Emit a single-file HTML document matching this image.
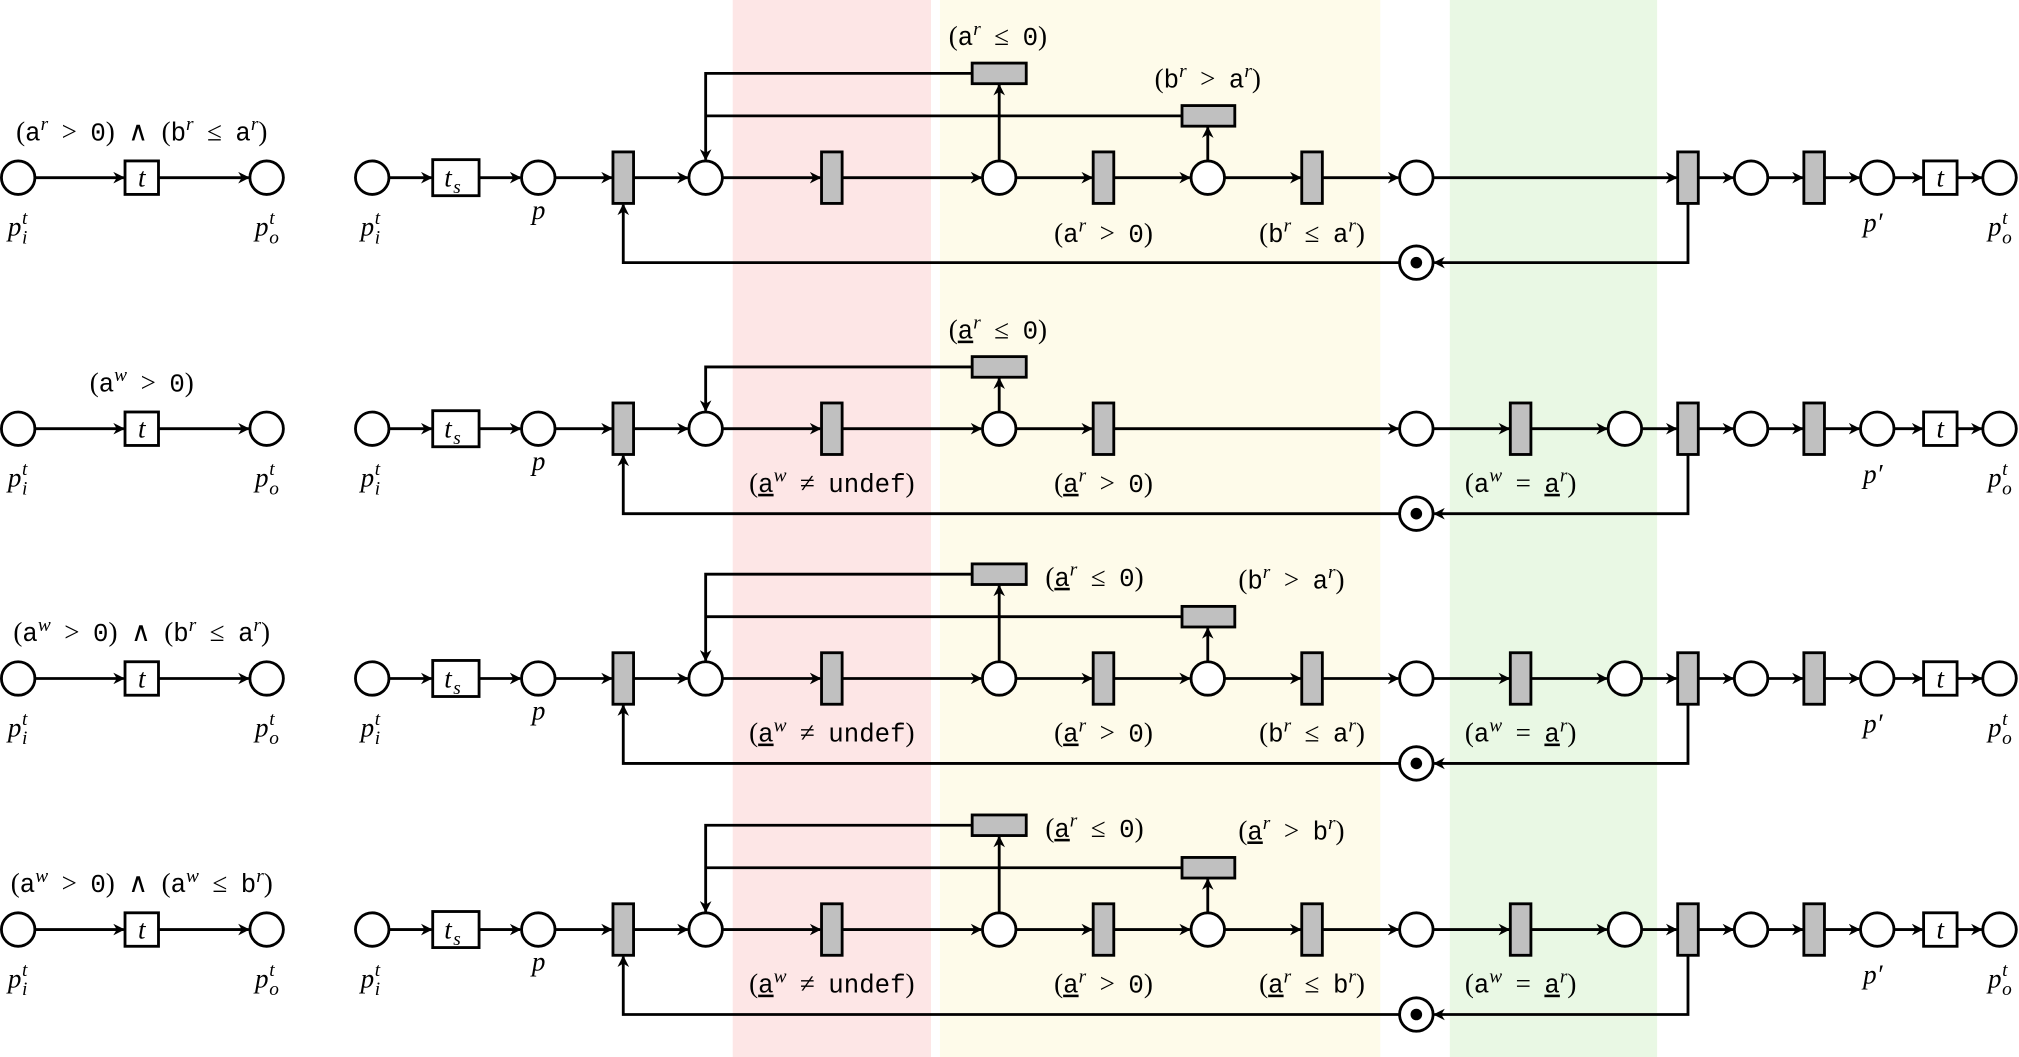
<!DOCTYPE html>
<html><head><meta charset="utf-8"><style>
html,body{margin:0;padding:0;background:#fff;}
svg{display:block}
text{font-family:"Liberation Serif","DejaVu Serif",serif;font-size:21px;fill:#000}
.m{font-family:"Liberation Mono",monospace;font-size:20px}
.s{font-style:italic;font-size:15px}
.i{font-style:italic}
.u{text-decoration:underline}
</style></head><body>
<svg id="S" width="2019" height="1057" viewBox="0 0 1568 821" xmlns="http://www.w3.org/2000/svg">
<defs><marker id="ar" viewBox="0 0 10 10" refX="9" refY="5" markerWidth="9" markerHeight="9" markerUnits="userSpaceOnUse" orient="auto"><path d="M0,0 L10,5 L0,10 L3,5 z" fill="#000"/></marker></defs>
<rect x="569" y="0" width="154" height="821" fill="#fde6e6"/>
<rect x="730" y="0" width="342" height="821" fill="#fefbea"/>
<rect x="1126" y="0" width="161" height="821" fill="#e9f8e4"/>
<g id="G"></g>
<g id="T">
<text x="110" y="109" text-anchor="middle">(<tspan class="m">a</tspan><tspan class="s" dy="-8">r</tspan><tspan dy="8">&#8194;&gt;&#8194;</tspan><tspan class="m">0</tspan>)&#8194;∧&#8194;(<tspan class="m">b</tspan><tspan class="s" dy="-8">r</tspan><tspan dy="8">&#8194;≤&#8194;</tspan><tspan class="m">a</tspan><tspan class="s" dy="-8">r</tspan><tspan dy="8">)</tspan></text>
<text x="110" y="304" text-anchor="middle">(<tspan class="m">a</tspan><tspan class="s" dy="-8">w</tspan><tspan dy="8">&#8194;&gt;&#8194;</tspan><tspan class="m">0</tspan>)</text>
<text x="110" y="498" text-anchor="middle">(<tspan class="m">a</tspan><tspan class="s" dy="-8">w</tspan><tspan dy="8">&#8194;&gt;&#8194;</tspan><tspan class="m">0</tspan>)&#8194;∧&#8194;(<tspan class="m">b</tspan><tspan class="s" dy="-8">r</tspan><tspan dy="8">&#8194;≤&#8194;</tspan><tspan class="m">a</tspan><tspan class="s" dy="-8">r</tspan><tspan dy="8">)</tspan></text>
<text x="110" y="693" text-anchor="middle">(<tspan class="m">a</tspan><tspan class="s" dy="-8">w</tspan><tspan dy="8">&#8194;&gt;&#8194;</tspan><tspan class="m">0</tspan>)&#8194;∧&#8194;(<tspan class="m">a</tspan><tspan class="s" dy="-8">w</tspan><tspan dy="8">&#8194;≤&#8194;</tspan><tspan class="m">b</tspan><tspan class="s" dy="-8">r</tspan><tspan dy="8">)</tspan></text>

<text x="775" y="35" text-anchor="middle">(<tspan class="m">a</tspan><tspan class="s" dy="-8">r</tspan><tspan dy="8">&#8194;≤&#8194;</tspan><tspan class="m">0</tspan>)</text>
<text x="938" y="68" text-anchor="middle">(<tspan class="m">b</tspan><tspan class="s" dy="-8">r</tspan><tspan dy="8">&#8194;&gt;&#8194;</tspan><tspan class="m">a</tspan><tspan class="s" dy="-8">r</tspan><tspan dy="8">)</tspan></text>
<text x="857" y="188" text-anchor="middle">(<tspan class="m">a</tspan><tspan class="s" dy="-8">r</tspan><tspan dy="8">&#8194;&gt;&#8194;</tspan><tspan class="m">0</tspan>)</text>
<text x="1019" y="188" text-anchor="middle">(<tspan class="m">b</tspan><tspan class="s" dy="-8">r</tspan><tspan dy="8">&#8194;≤&#8194;</tspan><tspan class="m">a</tspan><tspan class="s" dy="-8">r</tspan><tspan dy="8">)</tspan></text>

<text x="775" y="263" text-anchor="middle">(<tspan class="m u">a</tspan><tspan class="s" dy="-8">r</tspan><tspan dy="8">&#8194;≤&#8194;</tspan><tspan class="m">0</tspan>)</text>
<text x="646" y="382" text-anchor="middle">(<tspan class="m u">a</tspan><tspan class="s" dy="-8">w</tspan><tspan dy="8">&#8194;≠&#8194;</tspan><tspan class="m">undef</tspan>)</text>
<text x="857" y="382" text-anchor="middle">(<tspan class="m u">a</tspan><tspan class="s" dy="-8">r</tspan><tspan dy="8">&#8194;&gt;&#8194;</tspan><tspan class="m">0</tspan>)</text>
<text x="1181" y="382" text-anchor="middle">(<tspan class="m">a</tspan><tspan class="s" dy="-8">w</tspan><tspan dy="8">&#8194;=&#8194;</tspan><tspan class="m u">a</tspan><tspan class="s" dy="-8">r</tspan><tspan dy="8">)</tspan></text>

<text x="850" y="455" text-anchor="middle">(<tspan class="m u">a</tspan><tspan class="s" dy="-8">r</tspan><tspan dy="8">&#8194;≤&#8194;</tspan><tspan class="m">0</tspan>)</text>
<text x="1003" y="457" text-anchor="middle">(<tspan class="m">b</tspan><tspan class="s" dy="-8">r</tspan><tspan dy="8">&#8194;&gt;&#8194;</tspan><tspan class="m">a</tspan><tspan class="s" dy="-8">r</tspan><tspan dy="8">)</tspan></text>
<text x="646" y="576" text-anchor="middle">(<tspan class="m u">a</tspan><tspan class="s" dy="-8">w</tspan><tspan dy="8">&#8194;≠&#8194;</tspan><tspan class="m">undef</tspan>)</text>
<text x="857" y="576" text-anchor="middle">(<tspan class="m u">a</tspan><tspan class="s" dy="-8">r</tspan><tspan dy="8">&#8194;&gt;&#8194;</tspan><tspan class="m">0</tspan>)</text>
<text x="1019" y="576" text-anchor="middle">(<tspan class="m">b</tspan><tspan class="s" dy="-8">r</tspan><tspan dy="8">&#8194;≤&#8194;</tspan><tspan class="m">a</tspan><tspan class="s" dy="-8">r</tspan><tspan dy="8">)</tspan></text>
<text x="1181" y="576" text-anchor="middle">(<tspan class="m">a</tspan><tspan class="s" dy="-8">w</tspan><tspan dy="8">&#8194;=&#8194;</tspan><tspan class="m u">a</tspan><tspan class="s" dy="-8">r</tspan><tspan dy="8">)</tspan></text>

<text x="850" y="650" text-anchor="middle">(<tspan class="m u">a</tspan><tspan class="s" dy="-8">r</tspan><tspan dy="8">&#8194;≤&#8194;</tspan><tspan class="m">0</tspan>)</text>
<text x="1003" y="652" text-anchor="middle">(<tspan class="m u">a</tspan><tspan class="s" dy="-8">r</tspan><tspan dy="8">&#8194;&gt;&#8194;</tspan><tspan class="m">b</tspan><tspan class="s" dy="-8">r</tspan><tspan dy="8">)</tspan></text>
<text x="646" y="771" text-anchor="middle">(<tspan class="m u">a</tspan><tspan class="s" dy="-8">w</tspan><tspan dy="8">&#8194;≠&#8194;</tspan><tspan class="m">undef</tspan>)</text>
<text x="857" y="771" text-anchor="middle">(<tspan class="m u">a</tspan><tspan class="s" dy="-8">r</tspan><tspan dy="8">&#8194;&gt;&#8194;</tspan><tspan class="m">0</tspan>)</text>
<text x="1019" y="771" text-anchor="middle">(<tspan class="m u">a</tspan><tspan class="s" dy="-8">r</tspan><tspan dy="8">&#8194;≤&#8194;</tspan><tspan class="m">b</tspan><tspan class="s" dy="-8">r</tspan><tspan dy="8">)</tspan></text>
<text x="1181" y="771" text-anchor="middle">(<tspan class="m">a</tspan><tspan class="s" dy="-8">w</tspan><tspan dy="8">&#8194;=&#8194;</tspan><tspan class="m u">a</tspan><tspan class="s" dy="-8">r</tspan><tspan dy="8">)</tspan></text>

<g>
<text x="6" y="183" class="i">p</text><text x="17" y="174" class="s">t</text><text x="17" y="189" class="s">i</text>
<text x="198" y="183" class="i">p</text><text x="209" y="174" class="s">t</text><text x="209" y="189" class="s">o</text>
<text x="280" y="183" class="i">p</text><text x="291" y="174" class="s">t</text><text x="291" y="189" class="s">i</text>
<text x="413" y="170" class="i">p</text>
<text x="1447" y="180" class="i">p′</text>
<text x="1544" y="183" class="i">p</text><text x="1555" y="174" class="s">t</text><text x="1555" y="189" class="s">o</text>
</g>
<g transform="translate(0,195)">
<text x="6" y="183" class="i">p</text><text x="17" y="174" class="s">t</text><text x="17" y="189" class="s">i</text>
<text x="198" y="183" class="i">p</text><text x="209" y="174" class="s">t</text><text x="209" y="189" class="s">o</text>
<text x="280" y="183" class="i">p</text><text x="291" y="174" class="s">t</text><text x="291" y="189" class="s">i</text>
<text x="413" y="170" class="i">p</text>
<text x="1447" y="180" class="i">p′</text>
<text x="1544" y="183" class="i">p</text><text x="1555" y="174" class="s">t</text><text x="1555" y="189" class="s">o</text>
</g>
<g transform="translate(0,389)">
<text x="6" y="183" class="i">p</text><text x="17" y="174" class="s">t</text><text x="17" y="189" class="s">i</text>
<text x="198" y="183" class="i">p</text><text x="209" y="174" class="s">t</text><text x="209" y="189" class="s">o</text>
<text x="280" y="183" class="i">p</text><text x="291" y="174" class="s">t</text><text x="291" y="189" class="s">i</text>
<text x="413" y="170" class="i">p</text>
<text x="1447" y="180" class="i">p′</text>
<text x="1544" y="183" class="i">p</text><text x="1555" y="174" class="s">t</text><text x="1555" y="189" class="s">o</text>
</g>
<g transform="translate(0,584)">
<text x="6" y="183" class="i">p</text><text x="17" y="174" class="s">t</text><text x="17" y="189" class="s">i</text>
<text x="198" y="183" class="i">p</text><text x="209" y="174" class="s">t</text><text x="209" y="189" class="s">o</text>
<text x="280" y="183" class="i">p</text><text x="291" y="174" class="s">t</text><text x="291" y="189" class="s">i</text>
<text x="413" y="170" class="i">p</text>
<text x="1447" y="180" class="i">p′</text>
<text x="1544" y="183" class="i">p</text><text x="1555" y="174" class="s">t</text><text x="1555" y="189" class="s">o</text>
</g>
<text x="110" y="145" text-anchor="middle" class="i">t</text>
<text x="110" y="340" text-anchor="middle" class="i">t</text>
<text x="110" y="534" text-anchor="middle" class="i">t</text>
<text x="110" y="729" text-anchor="middle" class="i">t</text>
<text x="1507" y="145" text-anchor="middle" class="i">t</text>
<text x="1507" y="340" text-anchor="middle" class="i">t</text>
<text x="1507" y="534" text-anchor="middle" class="i">t</text>
<text x="1507" y="729" text-anchor="middle" class="i">t</text>
<g><text x="345" y="145" class="i">t</text><text x="352" y="150" class="s">s</text></g>
<g transform="translate(0,195)"><text x="345" y="145" class="i">t</text><text x="352" y="150" class="s">s</text></g>
<g transform="translate(0,389)"><text x="345" y="145" class="i">t</text><text x="352" y="150" class="s">s</text></g>
<g transform="translate(0,584)"><text x="345" y="145" class="i">t</text><text x="352" y="150" class="s">s</text></g>
</g>
</svg>
<script>
(function(){
var NS="http://www.w3.org/2000/svg",G=document.getElementById("G");
function el(t,a){var e=document.createElementNS(NS,t);for(var k in a)e.setAttribute(k,a[k]);G.appendChild(e);return e;}
var SW=2.2;
function line(pts,arrow){el("polyline",{points:pts.map(function(p){return p.join(",")}).join(" "),fill:"none",stroke:"#000","stroke-width":SW,"marker-end":arrow?"url(#ar)":""});}
var HW={c:13,b:8,ts:18,t:13};
function node(n,y){
 var t=n[0],x=n[1];
 if(t=="c")el("circle",{cx:x,cy:y,r:13,fill:"#fff",stroke:"#000","stroke-width":SW});
 else if(t=="b")el("rect",{x:x-8,y:y-20,width:16,height:40,fill:"#c0c0c0",stroke:"#000","stroke-width":SW});
 else if(t=="ts")el("rect",{x:x-18,y:y-14,width:36,height:28,fill:"#fff",stroke:"#000","stroke-width":SW});
 else if(t=="t")el("rect",{x:x-13,y:y-13,width:26,height:26,fill:"#fff",stroke:"#000","stroke-width":SW});
}
function chain(ns,y){
 for(var i=0;i<ns.length-1;i++){line([[ns[i][1]+HW[ns[i][0]],y],[ns[i+1][1]-HW[ns[i+1][0]]-1,y]],true);}
 ns.forEach(function(n){node(n,y)});
}
var rows=[{y:138,k:1},{y:333,k:2},{y:527,k:3},{y:722,k:3}];
rows.forEach(function(r){
 var y=r.y;
 chain([["c",14],["t",110],["c",207]],y);
 var ns=[["c",289],["ts",354],["c",418],["b",484],["c",548],["b",646],["c",776],["b",857]];
 if(r.k!=2)ns=ns.concat([["c",938],["b",1019]]);
 ns.push(["c",1100]);
 if(r.k!=1)ns=ns.concat([["b",1181],["c",1262]]);
 ns=ns.concat([["b",1311],["c",1360],["b",1409],["c",1458],["t",1507],["c",1553]]);
 var fy=y+66;
 line([[1311,y+20],[1311,fy],[1114,fy]],true);
 line([[1087,fy],[484,fy],[484,y+21]],true);
 el("circle",{cx:1100,cy:fy,r:13,fill:"#fff",stroke:"#000","stroke-width":SW});
 el("circle",{cx:1100,cy:fy,r:4.5,fill:"#000"});
 var r1=(r.k==2)?y-48:y-81;
 line([[776,y-13],[776,r1+9]],true);
 line([[755,r1],[548,r1],[548,y-14]],true);
 el("rect",{x:755,y:r1-8,width:42,height:16,fill:"#c0c0c0",stroke:"#000","stroke-width":SW});
 if(r.k!=2){
  var r2=y-48;
  line([[938,y-13],[938,r2+9]],true);
  line([[918,r2],[548,r2]],false);
  el("rect",{x:918,y:r2-8,width:41,height:16,fill:"#c0c0c0",stroke:"#000","stroke-width":SW});
 }
 chain(ns,y);
});
})();
</script>
</body></html>
